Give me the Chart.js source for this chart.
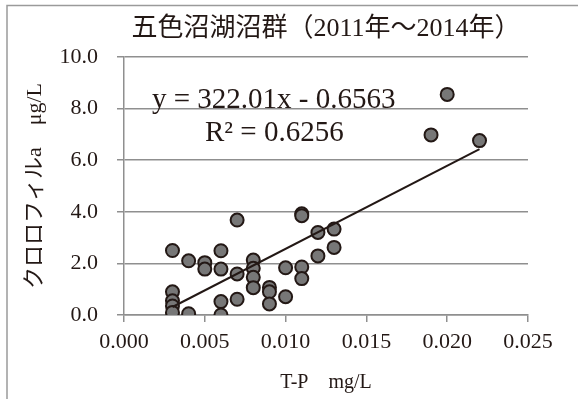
<!DOCTYPE HTML>
<html>
	<head>
		<title>五色沼湖沼群</title>
		<meta charset="utf-8" />
		<script src="https://cdn.jsdelivr.net/npm/chart.js@4.4.1/dist/chart.umd.min.js"></script>
		<style>
			body { margin: 0; background: #fff; }
			#wrapper { width: 578px; height: 399px; }
		</style>
	</head>
	<body>
		<div id="wrapper">
			<canvas id="myChart" width="578" height="399"></canvas>
		</div>
	</body>
<script type="text/javascript">
// T-P (mg/L) vs chlorophyll a (ug/L)
var tpValues = [
	0.003, 0.003, 0.003, 0.003, 0.003,
	0.004, 0.004,
	0.005, 0.005,
	0.006, 0.006, 0.006, 0.006,
	0.007, 0.007, 0.007,
	0.008, 0.008, 0.008, 0.008,
	0.009, 0.009, 0.009,
	0.010, 0.010,
	0.011, 0.011, 0.011, 0.011,
	0.012, 0.012,
	0.013, 0.013,
	0.019, 0.020, 0.022
];
var chlaValues = [
	2.50, 0.90, 0.55, 0.35, 0.10,
	2.10, 0.05,
	2.03, 1.78,
	2.49, 1.78, 0.52, 0.00,
	3.68, 1.59, 0.61,
	2.13, 1.81, 1.46, 1.06,
	1.07, 0.90, 0.43,
	1.83, 0.71,
	3.92, 3.85, 1.86, 1.41,
	3.20, 2.29,
	3.33, 2.62,
	6.98, 8.55, 6.76
];
// linear trendline end points
var trendX = [0.003, 0.022];
var trendY = [0.31, 6.43];
var trendLabels = ["y = 322.01x - 0.6563", "R\u00b2 = 0.6256"];
var chartTitle = '五色沼湖沼群（2011年～2014年）';
var xTicks = [0.000, 0.005, 0.010, 0.015, 0.020, 0.025];
var yTicks = [0.0, 2.0, 4.0, 6.0, 8.0, 10.0];

var serif = "'Liberation Serif', 'Noto Sans CJK JP', serif";
var gridColor = "#8f8f8f";
var textColor = "#231815";

var points = [];
for (var i = 0; i < tpValues.length; i++) {
	points.push({x: tpValues[i], y: chlaValues[i]});
}
var trend = [];
for (var j = 0; j < trendX.length; j++) {
	trend.push({x: trendX[j], y: trendY[j]});
}

// outer frame, title + equation text
var extras = {
	id: 'extras',
	beforeDraw: function(chart) {
		var ctx = chart.ctx;
		ctx.save();
		ctx.fillStyle = '#fff';
		ctx.fillRect(0, 0, chart.width, chart.height);
		ctx.strokeStyle = '#9a9a9a';
		ctx.lineWidth = 1.5;
		ctx.beginPath();
		ctx.moveTo(7, chart.height);
		ctx.lineTo(7, 5.5);
		ctx.lineTo(chart.width, 5.5);
		ctx.stroke();
		ctx.restore();
	},
	afterDraw: function(chart) {
		var ctx = chart.ctx;
		var a = chart.chartArea;
		ctx.save();
		ctx.fillStyle = textColor;
		ctx.textBaseline = 'middle';
		ctx.textAlign = 'center';
		ctx.font = "26px " + serif;
		ctx.fillText(chartTitle, (a.left + a.right) / 2, 29);
		ctx.textAlign = 'left';
		ctx.font = "29px " + serif;
		ctx.fillText(trendLabels[0], a.left + 28, a.top + 43);
		ctx.fillText(trendLabels[1], a.left + 81, a.top + 76);
		ctx.restore();
	}
};

var ctx = document.getElementById("myChart");
var myChart = new Chart(ctx, {
	type: 'scatter',
	data: {
		datasets: [{
			data: points,
			backgroundColor: '#777777',
			borderColor: textColor,
			borderWidth: 2,
			pointRadius: 6.5,
			order: 1
		}, {
			data: trend,
			type: 'line',
			showLine: true,
			borderColor: textColor,
			borderWidth: 2,
			pointRadius: 0,
			fill: false,
			order: 0
		}]
	},
	plugins: [extras],
	options: {
		responsive: false,
		animation: false,
		layout: {padding: {left: 8, right: 50, top: 57, bottom: 0}},
		plugins: {
			legend: {display: false},
			tooltip: {enabled: false},
			title: {display: false}
		},
		scales: {
			x: {
				type: 'linear',
				min: 0,
				max: 0.025,
				afterFit: function(scale) { scale.height = 84; },
				afterBuildTicks: function(scale) {
					scale.ticks = xTicks.map(function(v) { return {value: v}; });
				},
				ticks: {
					color: textColor,
					padding: 7,
					maxRotation: 0,
					font: {family: serif, size: 22},
					callback: function(v) { return v.toFixed(3); }
				},
				grid: {drawOnChartArea: false, drawTicks: true, tickLength: 7, color: gridColor, lineWidth: 1.5},
				border: {color: gridColor, width: 1.5},
				title: {
					display: true,
					text: 'T-P　mg/L',
					color: textColor,
					font: {family: serif, size: 20, lineHeight: 1.2},
					padding: {top: 0, bottom: 4}
				}
			},
			y: {
				type: 'linear',
				min: 0,
				max: 10,
				afterFit: function(scale) { scale.width = 116; },
				afterBuildTicks: function(scale) {
					scale.ticks = yTicks.map(function(v) { return {value: v}; });
				},
				ticks: {
					color: textColor,
					padding: 19,
					font: {family: serif, size: 22},
					callback: function(v) { return v.toFixed(1); }
				},
				grid: {drawTicks: true, tickLength: 7, color: gridColor, lineWidth: 1.5},
				border: {color: gridColor, width: 1.5},
				title: {
					display: true,
					text: 'クロロフィルa　μg/L',
					color: textColor,
					font: {family: serif, size: 22, lineHeight: 1.2},
					padding: {top: 14, bottom: 0}
				}
			}
		}
	}
});
</script>
</html>
